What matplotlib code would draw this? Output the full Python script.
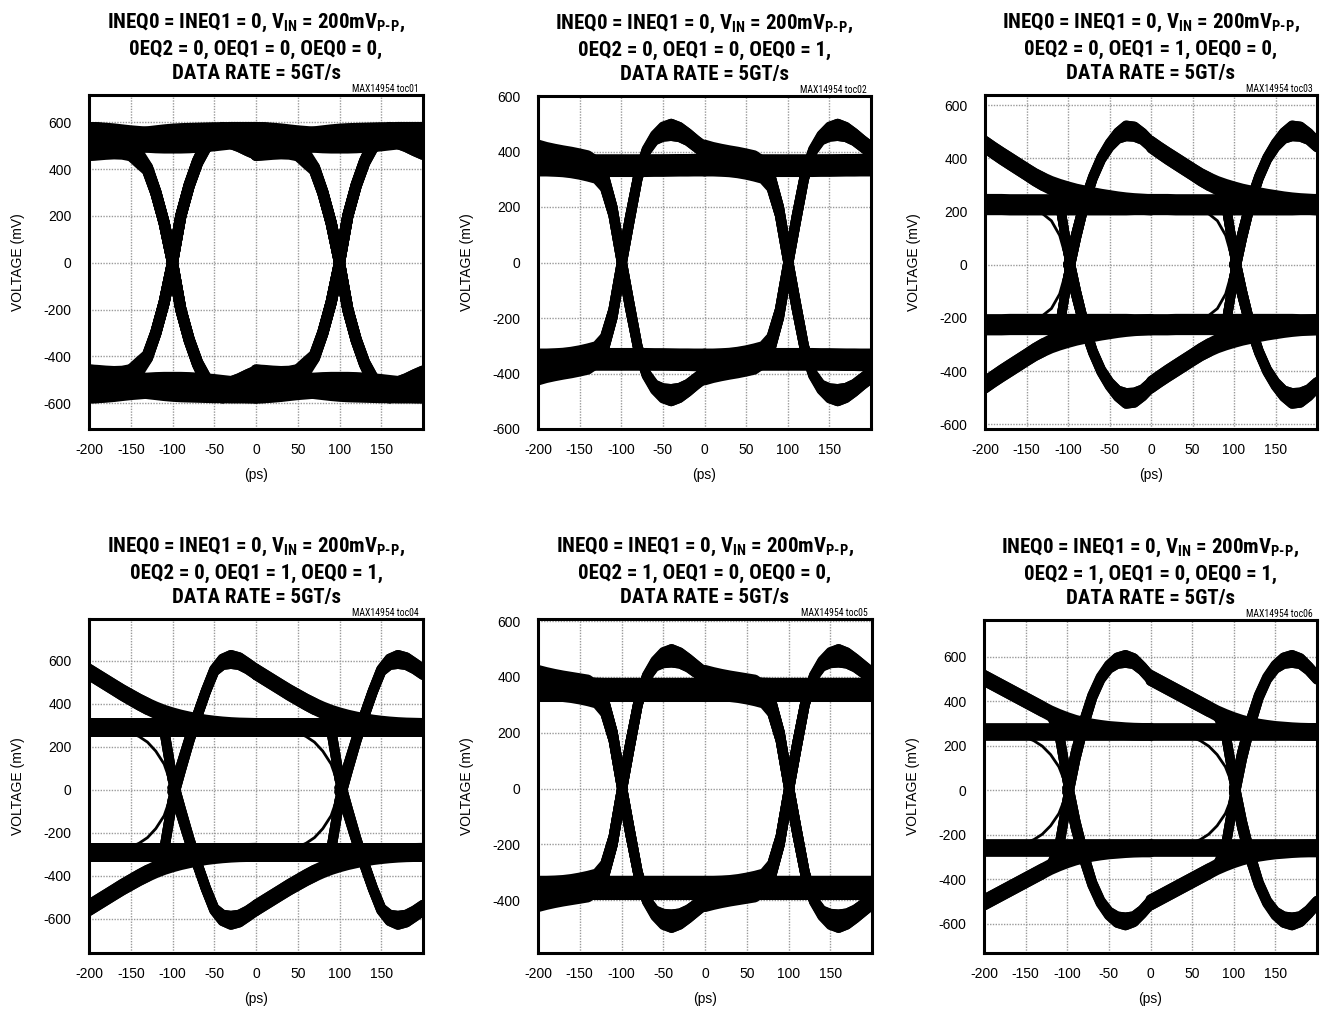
import numpy as np
import matplotlib
matplotlib.use("Agg")
import matplotlib.pyplot as plt
from matplotlib import font_manager as fm

# ---------------- data ----------------
# time offset from a 0-V crossing (ps); one unit interval (200 ps) spans -100..100
DT = [-100, -90, -80, -70, -60, -50, -40, -30, -20, -10, 0,
      10, 20, 30, 40, 50, 60, 70, 80, 90, 100]
CROSSINGS = [-100, 100]          # ps, eye crossings inside the window

X_LIM = [-200, 200]
X_TICKS = [-200, -150, -100, -50, 0, 50, 100, 150]

# Each panel: rising edge from steady low (UP_SS), rising edge from an
# emphasised low (UP_BB), emphasised high that stays high (HOLD_BB),
# steady high (HOLD_SS). Falling traces are the mirror images.  Values in mV.
P1_UP_SS = [-545, -544, -540, -528, -505, -475, -440, -400, -300, -170, 0,
            200, 330, 430, 500, 538, 545, 538, 522, 505, 490]
P1_UP_BB = [-490, -492, -495, -497, -494, -480, -450, -402, -300, -170, 0,
            200, 330, 430, 500, 538, 545, 538, 522, 505, 490]
P1_HOLD_BB = [490, 494, 500, 506, 512, 517, 522, 527, 531, 535, 538,
              540, 541, 542, 543, 544, 544, 545, 545, 545, 545]
P1_HOLD_SS = [545, 544, 542, 539, 535, 531, 528, 525, 523, 522, 522,
              522, 523, 525, 528, 531, 535, 539, 542, 544, 545]

P2_UP_SS = [-350, -350, -349, -347, -343, -337, -328, -312, -270, -170, 0,
            165, 315, 405, 450, 472, 478, 470, 452, 428, 405]
P2_UP_BB = [-405, -396, -389, -383, -378, -372, -366, -355, -310, -200, -25,
            140, 300, 400, 448, 470, 478, 470, 452, 428, 405]
P2_HOLD_BB = [405, 385, 372, 363, 357, 353, 351, 350, 350, 350, 350,
              350, 350, 350, 350, 350, 350, 350, 350, 350, 350]
P2_HOLD_SS = [352, 352, 351, 351, 350, 349, 349, 348, 348, 348, 348,
              348, 348, 348, 349, 349, 350, 351, 351, 352, 352]

P3_UP_SS = [-225, -225, -224, -222, -219, -214, -205, -190, -165, -110, 0,
            120, 240, 330, 400, 450, 485, 503, 500, 482, 452]
P3_UP_BB = [-452, -430, -409, -389, -369, -349, -329, -312, -297, -230, -45,
            100, 228, 325, 398, 448, 485, 503, 500, 482, 452]
P3_HOLD_BB = [452, 430, 409, 389, 369, 349, 329, 312, 297, 285, 275,
              266, 259, 252, 246, 241, 236, 232, 229, 227, 225]
P3_HOLD_SS = [226, 226, 226, 225, 225, 225, 225, 225, 225, 225, 225,
              225, 225, 225, 225, 225, 225, 225, 226, 226, 226]

P4_UP_SS = [-290, -290, -288, -285, -278, -265, -248, -222, -180, -120, -10,
            110, 235, 350, 460, 555, 595, 606, 598, 575, 548]
P4_UP_BB = [-548, -524, -500, -476, -452, -430, -408, -388, -370, -280, -50,
            90, 225, 345, 457, 555, 595, 606, 598, 575, 548]
P4_HOLD_BB = [548, 524, 500, 476, 452, 430, 408, 388, 370, 354, 341,
              330, 321, 313, 306, 301, 297, 294, 292, 291, 290]
P4_HOLD_SS = [290, 290, 290, 290, 290, 290, 290, 290, 290, 290, 290,
              290, 290, 290, 290, 290, 290, 290, 290, 290, 290]

P5_UP_SS = [-355, -355, -354, -352, -348, -342, -333, -316, -272, -172, 0,
            165, 315, 403, 448, 470, 476, 468, 450, 427, 403]
P5_UP_BB = [-403, -395, -388, -382, -377, -372, -368, -357, -312, -202, -25,
            140, 300, 398, 446, 468, 476, 468, 450, 427, 403]
P5_HOLD_BB = [403, 385, 374, 367, 362, 359, 357, 356, 355, 355, 355,
              355, 355, 355, 355, 355, 355, 355, 355, 355, 355]
P5_HOLD_SS = [355, 355, 355, 355, 355, 355, 355, 355, 355, 355, 355,
              355, 355, 355, 355, 355, 355, 355, 355, 355, 355]

P6_UP_SS = [-262, -262, -260, -257, -250, -238, -222, -198, -160, -105, -10,
            170, 310, 425, 505, 555, 582, 590, 580, 547, 505]
P6_UP_BB = [-505, -485, -465, -445, -425, -405, -385, -365, -345, -260, -45,
            140, 290, 415, 500, 553, 582, 590, 580, 547, 505]
P6_HOLD_BB = [505, 485, 465, 445, 425, 405, 385, 365, 345, 328, 313,
              300, 290, 282, 276, 271, 268, 265, 263, 262, 262]
P6_HOLD_SS = [262, 262, 262, 262, 262, 262, 262, 262, 262, 262, 262,
              262, 262, 262, 262, 262, 262, 262, 262, 262, 262]

Y_LIMS = [(-710, 716), (-600, 600), (-618, 638), (-758, 794), (-590, 608), (-732, 765)]
Y_TICKS_FULL = [-600, -400, -200, 0, 200, 400, 600]
Y_TICKS_P5 = [-400, -200, 0, 200, 400, 600]

TITLE_LINE1 = r"INEQ0 = INEQ1 = 0, V$_{\mathbf{IN}}$ = 200mV$_{\mathbf{P‐P}}$,"
TITLE_LINE2 = ["0EQ2 = 0, OEQ1 = 0, OEQ0 = 0,",
               "0EQ2 = 0, OEQ1 = 0, OEQ0 = 1,",
               "0EQ2 = 0, OEQ1 = 1, OEQ0 = 0,",
               "0EQ2 = 0, OEQ1 = 1, OEQ0 = 1,",
               "0EQ2 = 1, OEQ1 = 0, OEQ0 = 0,",
               "0EQ2 = 1, OEQ1 = 0, OEQ0 = 1,"]
TITLE_LINE3 = "DATA RATE = 5GT/s"
TOC_LABELS = ["MAX14954 toc01", "MAX14954 toc02", "MAX14954 toc03",
              "MAX14954 toc04", "MAX14954 toc05", "MAX14954 toc06"]
X_LABEL = "(ps)"
Y_LABEL = "VOLTAGE (mV)"

# ---------------- layout / style ----------------
W, H, DPI = 1327, 1011, 100
AX_BOX = [(89, 95, 423, 429), (538, 96, 871, 429), (985, 95, 1317, 429),
          (89, 619, 423, 953), (538, 619, 872, 953), (984, 620, 1317, 953)]
HALF_MV = [56, 40, 40, 44, 42, 40]       # vertical half thickness of flat traces
LW_PTS = [8.0, 6.5, 6.8, 7.2, 6.5, 7.0]  # stroke width of transitions
THIN_PRE = [False, False, True, True, False, True]
THIN_LW = 2.0


def pick_condensed():
    names = {f.name for f in fm.fontManager.ttflist}
    for p in ['Liberation Sans Narrow', 'Arial Narrow', 'Roboto Condensed',
              'Open Sans Condensed', 'Noto Sans Condensed', 'DejaVu Sans Condensed']:
        if p in names:
            return p, 'normal'
    for fam in ['Roboto', 'Noto Sans', 'Open Sans', 'DejaVu Sans', 'Liberation Sans']:
        for f in fm.fontManager.ttflist:
            if f.name == fam and str(f.stretch) in ('condensed', 'semi-condensed',
                                                     'extra-condensed'):
                return fam, str(f.stretch)
    return None, None


COND_FAM, COND_STRETCH = pick_condensed()
if COND_FAM is None:
    TITLE_FAM, TITLE_STRETCH, TITLE_SIZE, TITLE_LS = 'Liberation Sans', 'normal', 13.2, 1.55
else:
    TITLE_FAM, TITLE_STRETCH, TITLE_SIZE, TITLE_LS = COND_FAM, COND_STRETCH, 15, 1.36

plt.rcParams['font.family'] = ['Liberation Sans', 'DejaVu Sans']
plt.rcParams['axes.unicode_minus'] = False
plt.rcParams['mathtext.fontset'] = 'custom'
_pat = TITLE_FAM + (":stretch=" + TITLE_STRETCH if TITLE_STRETCH == 'condensed' else "")
plt.rcParams['mathtext.rm'] = _pat
plt.rcParams['mathtext.bf'] = _pat + ':bold'
plt.rcParams['mathtext.it'] = _pat + ':italic'

PANELS = [
    (P1_UP_SS, P1_UP_BB, P1_HOLD_BB, P1_HOLD_SS),
    (P2_UP_SS, P2_UP_BB, P2_HOLD_BB, P2_HOLD_SS),
    (P3_UP_SS, P3_UP_BB, P3_HOLD_BB, P3_HOLD_SS),
    (P4_UP_SS, P4_UP_BB, P4_HOLD_BB, P4_HOLD_SS),
    (P5_UP_SS, P5_UP_BB, P5_HOLD_BB, P5_HOLD_SS),
    (P6_UP_SS, P6_UP_BB, P6_HOLD_BB, P6_HOLD_SS),
]


def draw_eye(ax, arrays, half_mv, lw_pt, thin_pre, px_per_mv, px_per_ps):
    up_ss, up_bb, hold_bb, hold_ss = [np.asarray(a, float) for a in arrays]
    dt = np.asarray(DT, float)
    lw_px = lw_pt * DPI / 72.0
    spread = max(half_mv - 0.5 * lw_px / px_per_mv, 0.0)   # mV each side
    n = int(np.ceil(2 * spread * px_per_mv / (0.5 * lw_px))) + 1
    offsets = np.linspace(-1.0, 1.0, max(n, 2))

    def thick(t, v):
        # amplitude noise widens flat parts; steep edges keep the stroke width
        slope_px = np.abs(np.gradient(v, t)) * px_per_mv / px_per_ps
        w = spread / (1.0 + slope_px ** 2)
        for off in offsets:
            ax.plot(t, v + off * w, color='black', lw=lw_pt, solid_capstyle='round',
                    solid_joinstyle='round', zorder=2.6)

    for c in CROSSINGS:
        t = c + dt
        for s in (1, -1):
            for arr in (hold_ss, hold_bb, up_bb):
                thick(t, s * arr)
            v = s * up_ss
            if thin_pre:
                pre = dt <= 0
                post = dt >= 0
                ax.plot(t[pre], v[pre], color='black', lw=THIN_LW, zorder=2.6,
                        solid_capstyle='round')
                thick(t[post], v[post])
            else:
                thick(t, v)


fig = plt.figure(figsize=(W / DPI, H / DPI), dpi=DPI)
for i in range(6):
    l, tp, r, b = AX_BOX[i]
    ax = fig.add_axes([l / W, 1 - b / H, (r - l) / W, (b - tp) / H])
    ax.set_xlim(X_LIM)
    ax.set_ylim(Y_LIMS[i])
    yt = Y_TICKS_P5 if i == 4 else Y_TICKS_FULL
    ax.set_xticks(X_TICKS)
    ax.set_xticklabels([str(v) for v in X_TICKS])
    ax.set_yticks(yt)
    ax.set_yticklabels([str(v) for v in yt])
    ax.tick_params(length=0, labelsize=10)
    ax.tick_params(axis='x', pad=10.3)
    ax.tick_params(axis='y', pad=12.5)
    ax.grid(True, color='#9a9a9a', lw=1.0, ls=(0, (1, 1)), zorder=0.5)
    ax.set_axisbelow(True)
    for sp in ax.spines.values():
        sp.set_linewidth(2.2)
        sp.set_zorder(5)

    px_per_mv = (b - tp) / (Y_LIMS[i][1] - Y_LIMS[i][0])
    px_per_ps = (r - l) / (X_LIM[1] - X_LIM[0])
    draw_eye(ax, PANELS[i], HALF_MV[i], LW_PTS[i], THIN_PRE[i], px_per_mv, px_per_ps)

    ax.set_ylabel(Y_LABEL, fontsize=10)
    ax.yaxis.set_label_coords(-64 / (r - l), 0.5)
    ax.set_xlabel(X_LABEL, fontsize=10)
    ax.xaxis.set_label_coords(0.5, -39 / (b - tp))

    title = "\n".join([TITLE_LINE1, TITLE_LINE2[i], TITLE_LINE3])
    ax.text(0.5, 1 + 12 / (b - tp), title, transform=ax.transAxes,
            ha='center', va='bottom', fontsize=TITLE_SIZE, fontweight='bold',
            fontstretch=TITLE_STRETCH, family=[TITLE_FAM, 'DejaVu Sans'],
            linespacing=TITLE_LS)
    ax.text(1 - 4 / (r - l), 1 + 1.0 / (b - tp), TOC_LABELS[i],
            transform=ax.transAxes, ha='right', va='bottom', fontsize=7,
            fontstretch=TITLE_STRETCH, family=[TITLE_FAM, 'DejaVu Sans'])

fig.savefig("out.png", dpi=DPI)
